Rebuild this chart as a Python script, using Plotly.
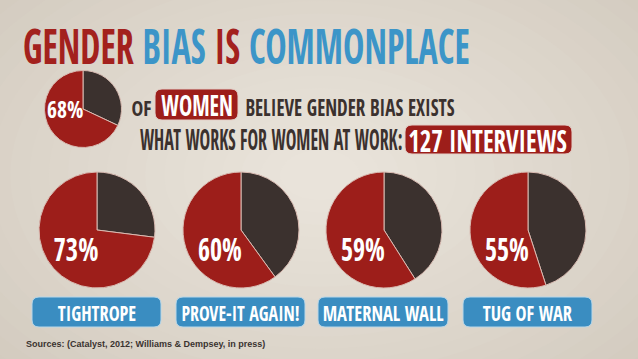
import json
import plotly.graph_objects as go

# ---- data ----
overall_pct = 68
interviews = 127
patterns = ["TIGHTROPE", "PROVE-IT AGAIN!", "MATERNAL WALL", "TUG OF WAR"]
pattern_pct = [73, 60, 59, 55]
source_note = "Sources: (Catalyst, 2012; Williams & Dempsey, in press)"

# ---- styling ----
W, H = 638, 359
RED = "#9D1E1A"
DARK = "#3B312E"
BLUE = "#3A8DC1"
TITLE_BLUE = "#3C95C8"
TITLE_RED = "#A3211D"
SLICE_LINE = "#D9BBB2"
COND = "Open Sans Condensed, Roboto Condensed, sans-serif"


def px_domain(cx, cy, r):
    """Square domain (paper fractions) for a pie centred at pixel cx, cy."""
    return dict(x=[(cx - r) / W, (cx + r) / W],
                y=[(H - cy - r) / H, (H - cy + r) / H])


def rounded_box(x0, y0, x1, y1, r):
    return (f"M{x0 + r},{y0} L{x1 - r},{y0} Q{x1},{y0} {x1},{y0 + r} "
            f"L{x1},{y1 - r} Q{x1},{y1} {x1 - r},{y1} L{x0 + r},{y1} "
            f"Q{x0},{y1} {x0},{y1 - r} L{x0},{y0 + r} Q{x0},{y0} {x0 + r},{y0} Z")


def mix(c1, c2, t):
    a = [int(c1[i:i + 2], 16) for i in (1, 3, 5)]
    b = [int(c2[i:i + 2], 16) for i in (1, 3, 5)]
    return "#" + "".join(f"{round(a[k] + (b[k] - a[k]) * t):02x}" for k in range(3))


fig = go.Figure()


# pies: dark share first, running clockwise from 12 o'clock
def add_pie(pct, cx, cy, r):
    fig.add_trace(go.Pie(
        values=[100 - pct, pct], sort=False, direction="clockwise", rotation=0,
        marker=dict(colors=[DARK, RED], line=dict(color=SLICE_LINE, width=1)),
        textinfo="none", hoverinfo="skip", showlegend=False,
        domain=px_domain(cx, cy, r)))


add_pie(overall_pct, 83, 109, 38.5)
pie_cx = [97, 241, 384, 528]
for pct, cx in zip(pattern_pct, pie_cx):
    add_pie(pct, cx, 230, 58)

# invisible pixel axes for placing shapes and labels
fig.add_trace(go.Scatter(x=[0, W], y=[0, H], mode="markers",
                         marker=dict(opacity=0), hoverinfo="skip", showlegend=False))

shapes = []
# soft radial vignette background
edge, centre = "#C9C0B3", "#E9E3DA"
steps = 28
for i in range(steps):
    t = i / (steps - 1)
    rx = 560 * (1 - t) + 40 * t
    ry = 360 * (1 - t) + 25 * t
    cx, cy = 320, 175
    shapes.append(dict(type="circle", xref="x", yref="y", layer="below",
                       x0=cx - rx, x1=cx + rx, y0=cy - ry, y1=cy + ry,
                       fillcolor=mix(edge, centre, t ** 0.8), line=dict(width=0)))

# red highlight boxes
shapes.append(dict(type="path", xref="x", yref="y", path=rounded_box(155, 89, 238, 120, 7),
                   fillcolor=RED, line=dict(color="#E3CFC8", width=1)))
shapes.append(dict(type="path", xref="x", yref="y", path=rounded_box(405, 125, 572, 154, 7),
                   fillcolor=RED, line=dict(color="#E3CFC8", width=1)))
# blue category boxes
box_x = [(32, 161), (176, 305), (318, 448), (463, 592)]
for x0, x1 in box_x:
    shapes.append(dict(type="path", xref="x", yref="y", path=rounded_box(x0, 297, x1, 327, 7),
                       fillcolor=BLUE, line=dict(color="#B9D7E8", width=1)))

ann = []
fit_widths = []  # condensed width (px) for each headline-style label, None = natural


def label(text, x, y, size, color, width=None, family=COND, xanchor="center"):
    ann.append(dict(text=text, x=x, y=y, xref="x", yref="y", showarrow=False,
                    xanchor=xanchor, yanchor="middle",
                    font=dict(family=family, size=size, color=color, weight="bold")))
    fit_widths.append(None if width is None else width + 0.06 * size)


label(source_note, 24, 344, 9, "#3A3330", family="Liberation Sans, Arial, sans-serif",
      xanchor="left")
label(f"<span style='color:{TITLE_RED}'>GENDER</span> "
      f"<span style='color:{TITLE_BLUE}'>BIAS</span> "
      f"<span style='color:{TITLE_RED}'>IS</span> "
      f"<span style='color:{TITLE_BLUE}'>COMMONPLACE</span>", 246, 45, 49, TITLE_BLUE, 444)
label(f"{overall_pct}%", 64.5, 108.5, 24, "white", 35)
label("OF", 141.5, 107.5, 21, DARK, 19)
label("WOMEN", 197, 105, 28, "white", 70)
label("BELIEVE GENDER BIAS EXISTS", 350, 107.5, 22.5, DARK, 208)
label("WHAT WORKS FOR WOMEN AT WORK:", 270.5, 138.5, 28, DARK, 261)
label(f"{interviews} INTERVIEWS", 487.5, 139.5, 31, "white", 157)
pct_w = [43, 42, 42, 42]
for pct, cx, w in zip(pattern_pct, pie_cx, pct_w):
    label(f"{pct}%", cx - 21, 248.5, 32, "white", w)
label_w = [77, 117, 120, 88]
for name, (x0, x1), w in zip(patterns, box_x, label_w):
    label(name, (x0 + x1) / 2, 312, 22, "white", w)

fig.update_layout(
    width=W, height=H, margin=dict(l=0, r=0, t=0, b=0),
    paper_bgcolor=edge, plot_bgcolor="rgba(0,0,0,0)",
    xaxis=dict(range=[0, W], visible=False, fixedrange=True),
    yaxis=dict(range=[H, 0], visible=False, fixedrange=True),
    shapes=shapes, annotations=ann, showlegend=False)

# squeeze the headline labels horizontally into a tall, condensed poster style
squeeze_js = """
var gd = document.getElementById('{plot_id}');
var widths = %s;
function squeeze() {
  gd.querySelectorAll('g.annotation').forEach(function (g) {
    var w = widths[+g.getAttribute('data-index')];
    var t = g.querySelector('text.annotation-text');
    if (!w || !t) return;
    t.style.transform = 'none';
    var s = w / t.getBBox().width;
    t.style.transformBox = 'fill-box';
    t.style.transformOrigin = 'center';
    t.style.transform = 'scaleX(' + s + ')';
  });
}
squeeze();
gd.on('plotly_afterplot', squeeze);
""" % json.dumps(fit_widths)

fig.write_html("out.html", config=dict(displayModeBar=False), post_script=squeeze_js)
